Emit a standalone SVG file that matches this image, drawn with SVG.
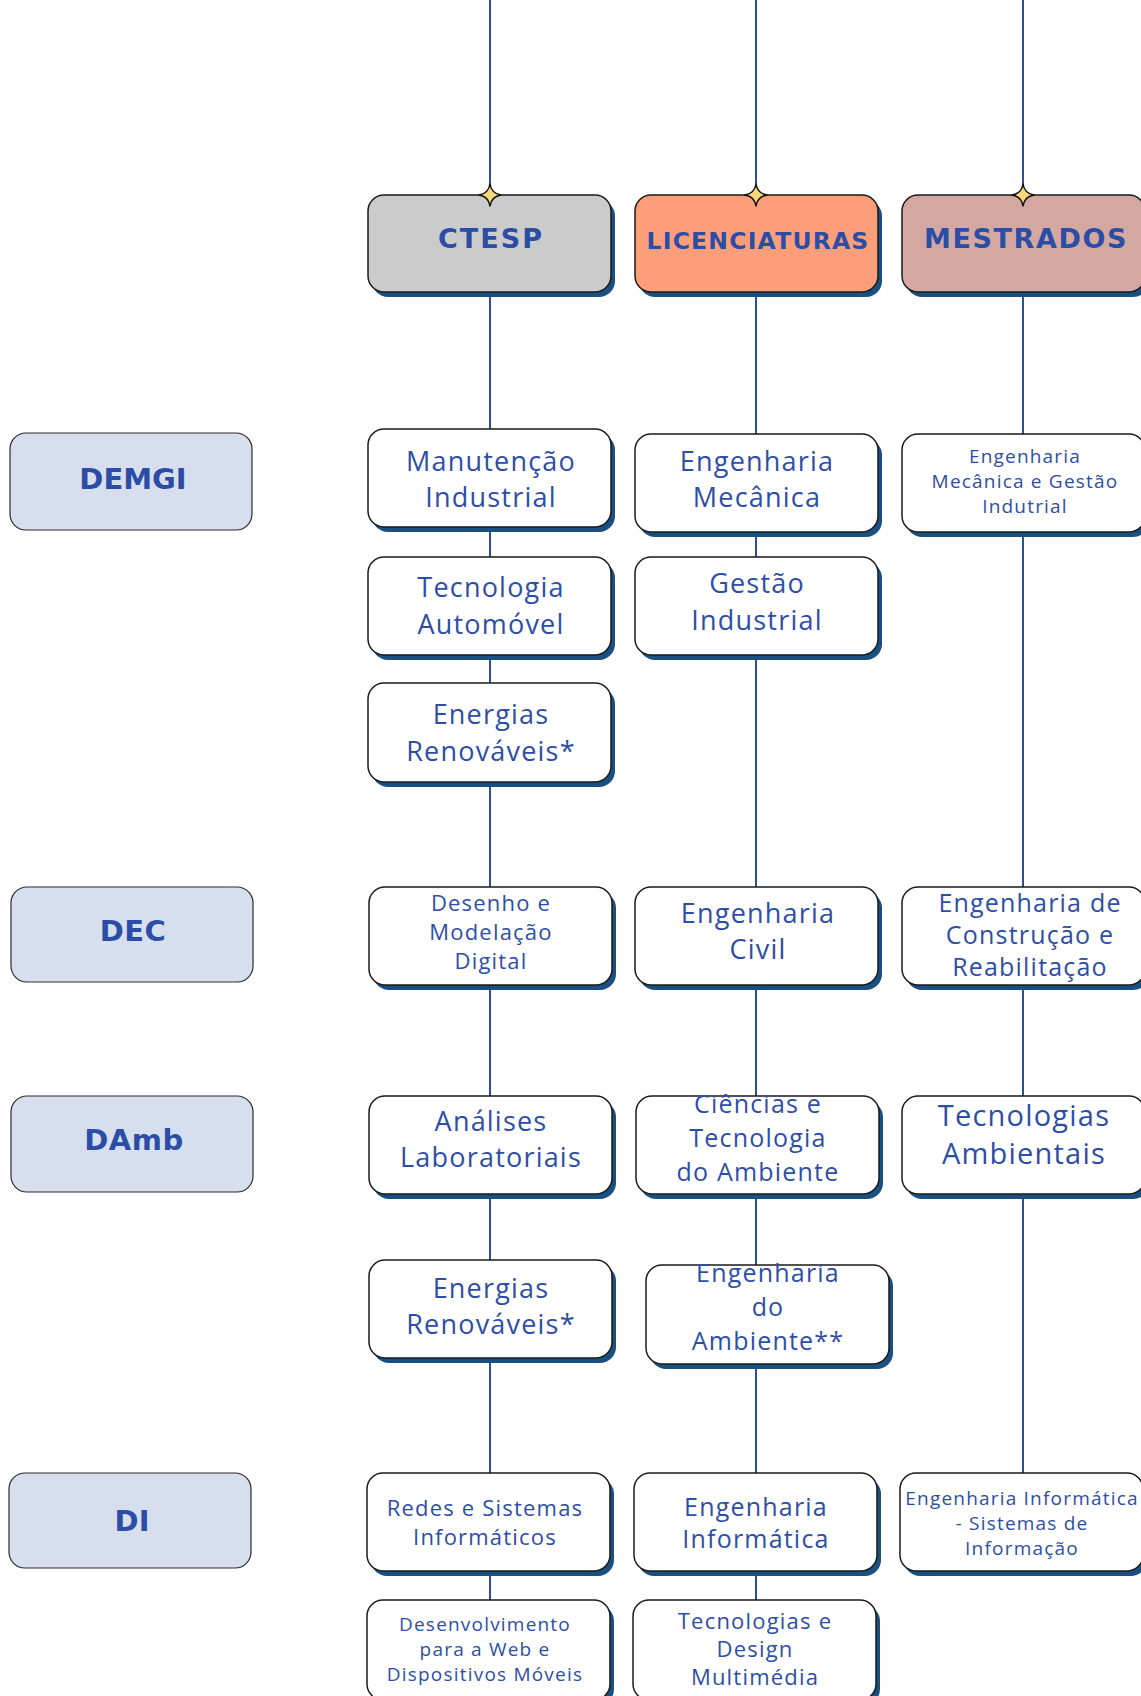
<svg xmlns="http://www.w3.org/2000/svg" width="1141" height="1696" viewBox="0 0 1141 1696">
<style>
.bg{fill:#ffffff}
.conn{stroke:#2e4ea6;stroke-width:2;fill:none}
.sh{fill:#1a4f82}
.box{fill:#ffffff;stroke:#1a1a1a;stroke-width:1.5}
.dept{fill:#d7dfef;stroke:#2a2a2a;stroke-width:1.2}
.hc{fill:#cbcbcb;stroke:#1a1a1a;stroke-width:1.5}
.hl{fill:#fd9e7a;stroke:#1a1a1a;stroke-width:1.5}
.hm{fill:#d4a8a1;stroke:#1a1a1a;stroke-width:1.5}
.star{fill:#f7d778;stroke:#111;stroke-width:1.5;stroke-linejoin:round}
.ht{font-family:"DejaVu Sans",sans-serif;font-weight:bold;fill:#2b4da6;text-anchor:middle}
.dt{font-family:"DejaVu Sans",sans-serif;font-weight:bold;font-size:29px;fill:#2b4da6;text-anchor:middle}
.t{font-family:"Open Sans",sans-serif;fill:#2e4ea6;text-anchor:middle;letter-spacing:1.2px}
</style>
<defs>
<path id="star" d="M0,-11 Q1.5,-1.5 11,0 Q1.5,1.5 0,11 Q-1.5,1.5 -11,0 Q-1.5,-1.5 0,-11 Z"/>
</defs>
<rect class="bg" x="0" y="0" width="1141" height="1696"/>
<g id="connectors">
<line class="conn" x1="490" y1="0" x2="490" y2="1600"/>
<line class="conn" x1="756" y1="0" x2="756" y2="1600"/>
<line class="conn" x1="1023" y1="0" x2="1023" y2="1473"/>
</g>
<g id="ctesp">
<rect class="sh" x="372" y="200" width="243" height="97" rx="16"/>
<rect class="hc" x="368" y="195" width="243" height="97" rx="16"/>
<text class="ht" x="491" y="248" font-size="27" letter-spacing="2">CTESP</text>
<use href="#star" class="star" x="490" y="195"/>
</g>
<g id="licenciaturas">
<rect class="sh" x="639" y="200" width="243" height="97" rx="16"/>
<rect class="hl" x="635" y="195" width="243" height="97" rx="16"/>
<text class="ht" x="758" y="249" font-size="23.5" letter-spacing="1.2">LICENCIATURAS</text>
<use href="#star" class="star" x="756" y="195"/>
</g>
<g id="mestrados">
<rect class="sh" x="906" y="200" width="243" height="97" rx="16"/>
<rect class="hm" x="902" y="195" width="243" height="97" rx="16"/>
<text class="ht" x="1026" y="248" font-size="27" letter-spacing="1.6">MESTRADOS</text>
<use href="#star" class="star" x="1023" y="195"/>
</g>
<g id="demgi">
<rect class="dept" x="10" y="433" width="242" height="97" rx="16"/>
<text class="dt" x="133" y="489">DEMGI</text>
</g>
<g id="dec">
<rect class="dept" x="11" y="887" width="242" height="95" rx="16"/>
<text class="dt" x="133" y="941" letter-spacing="0.5">DEC</text>
</g>
<g id="damb">
<rect class="dept" x="11" y="1096" width="242" height="96" rx="16"/>
<text class="dt" x="134" y="1150" letter-spacing="0.5">DAmb</text>
</g>
<g id="di">
<rect class="dept" x="9" y="1473" width="242" height="95" rx="16"/>
<text class="dt" x="132" y="1531">DI</text>
</g>
<g id="manutencao">
<rect class="sh" x="372" y="434" width="243" height="98" rx="16"/>
<rect class="box" x="368" y="429" width="243" height="98" rx="16"/>
<text class="t" font-size="27" x="491"><tspan x="491" y="471">Manutenção</tspan><tspan x="491" y="507">Industrial</tspan></text>
</g>
<g id="eng-mecanica">
<rect class="sh" x="639" y="439" width="243" height="98" rx="16"/>
<rect class="box" x="635" y="434" width="243" height="98" rx="16"/>
<text class="t" font-size="27" x="757"><tspan x="757" y="471">Engenharia</tspan><tspan x="757" y="507">Mecânica</tspan></text>
</g>
<g id="eng-mec-gestao">
<rect class="sh" x="906" y="439" width="243" height="98" rx="16"/>
<rect class="box" x="902" y="434" width="243" height="98" rx="16"/>
<text class="t" font-size="19" x="1025" letter-spacing="0.8"><tspan x="1025" y="463">Engenharia</tspan><tspan x="1025" y="488">Mecânica e Gestão</tspan><tspan x="1025" y="513">Indutrial</tspan></text>
</g>
<g id="tec-automovel">
<rect class="sh" x="372" y="562" width="243" height="98" rx="16"/>
<rect class="box" x="368" y="557" width="243" height="98" rx="16"/>
<text class="t" font-size="27" x="491"><tspan x="491" y="597">Tecnologia</tspan><tspan x="491" y="634">Automóvel</tspan></text>
</g>
<g id="gestao-industrial">
<rect class="sh" x="639" y="562" width="243" height="98" rx="16"/>
<rect class="box" x="635" y="557" width="243" height="98" rx="16"/>
<text class="t" font-size="27" x="757"><tspan x="757" y="593">Gestão</tspan><tspan x="757" y="630">Industrial</tspan></text>
</g>
<g id="energias-1">
<rect class="sh" x="372" y="688" width="243" height="99" rx="16"/>
<rect class="box" x="368" y="683" width="243" height="99" rx="16"/>
<text class="t" font-size="27" x="491"><tspan x="491" y="724">Energias</tspan><tspan x="491" y="761">Renováveis*</tspan></text>
</g>
<g id="desenho">
<rect class="sh" x="373" y="892" width="243" height="98" rx="16"/>
<rect class="box" x="369" y="887" width="243" height="98" rx="16"/>
<text class="t" font-size="22" x="491"><tspan x="491" y="911">Desenho e</tspan><tspan x="491" y="940">Modelação</tspan><tspan x="491" y="969">Digital</tspan></text>
</g>
<g id="eng-civil">
<rect class="sh" x="639" y="892" width="243" height="98" rx="16"/>
<rect class="box" x="635" y="887" width="243" height="98" rx="16"/>
<text class="t" font-size="27" x="758"><tspan x="758" y="923">Engenharia</tspan><tspan x="758" y="959">Civil</tspan></text>
</g>
<g id="eng-construcao">
<rect class="sh" x="906" y="892" width="243" height="98" rx="16"/>
<rect class="box" x="902" y="887" width="243" height="98" rx="16"/>
<text class="t" font-size="25" x="1030"><tspan x="1030" y="912">Engenharia de</tspan><tspan x="1030" y="944">Construção e</tspan><tspan x="1030" y="976">Reabilitação</tspan></text>
</g>
<g id="analises">
<rect class="sh" x="373" y="1101" width="243" height="98" rx="16"/>
<rect class="box" x="369" y="1096" width="243" height="98" rx="16"/>
<text class="t" font-size="27" x="491"><tspan x="491" y="1131">Análises</tspan><tspan x="491" y="1167">Laboratoriais</tspan></text>
</g>
<g id="ciencias-ambiente">
<rect class="sh" x="640" y="1101" width="243" height="98" rx="16"/>
<rect class="box" x="636" y="1096" width="243" height="98" rx="16"/>
<text class="t" font-size="25" x="758" letter-spacing="2.2"><tspan x="758" y="1113">Ciências e</tspan><tspan x="758" y="1147">Tecnologia</tspan><tspan x="758" y="1181">do Ambiente</tspan></text>
</g>
<g id="tec-ambientais">
<rect class="sh" x="906" y="1101" width="243" height="98" rx="16"/>
<rect class="box" x="902" y="1096" width="243" height="98" rx="16"/>
<text class="t" font-size="29" x="1024" letter-spacing="1.5"><tspan x="1024" y="1126">Tecnologias</tspan><tspan x="1024" y="1164">Ambientais</tspan></text>
</g>
<g id="energias-2">
<rect class="sh" x="373" y="1265" width="243" height="98" rx="16"/>
<rect class="box" x="369" y="1260" width="243" height="98" rx="16"/>
<text class="t" font-size="27" x="491"><tspan x="491" y="1298">Energias</tspan><tspan x="491" y="1334">Renováveis*</tspan></text>
</g>
<g id="eng-ambiente">
<rect class="sh" x="650" y="1270" width="243" height="99" rx="16"/>
<rect class="box" x="646" y="1265" width="243" height="99" rx="16"/>
<text class="t" font-size="25" x="768" letter-spacing="2"><tspan x="768" y="1282">Engenharia</tspan><tspan x="768" y="1316">do</tspan><tspan x="768" y="1350">Ambiente**</tspan></text>
</g>
<g id="redes">
<rect class="sh" x="371" y="1478" width="243" height="98" rx="16"/>
<rect class="box" x="367" y="1473" width="243" height="98" rx="16"/>
<text class="t" font-size="22" x="485"><tspan x="485" y="1516">Redes e Sistemas</tspan><tspan x="485" y="1545">Informáticos</tspan></text>
</g>
<g id="eng-informatica">
<rect class="sh" x="638" y="1478" width="243" height="98" rx="16"/>
<rect class="box" x="634" y="1473" width="243" height="98" rx="16"/>
<text class="t" font-size="25" x="756"><tspan x="756" y="1516">Engenharia</tspan><tspan x="756" y="1548">Informática</tspan></text>
</g>
<g id="eng-inf-si">
<rect class="sh" x="904" y="1478" width="243" height="98" rx="16"/>
<rect class="box" x="900" y="1473" width="243" height="98" rx="16"/>
<text class="t" font-size="19" x="1022" letter-spacing="0.4"><tspan x="1022" y="1505">Engenharia Informática</tspan><tspan x="1022" y="1530">- Sistemas de</tspan><tspan x="1022" y="1555">Informação</tspan></text>
</g>
<g id="desenvolvimento">
<rect class="sh" x="371" y="1605" width="243" height="100" rx="16"/>
<rect class="box" x="367" y="1600" width="243" height="100" rx="16"/>
<text class="t" font-size="19" x="485" letter-spacing="0.5"><tspan x="485" y="1631">Desenvolvimento</tspan><tspan x="485" y="1656">para a Web e</tspan><tspan x="485" y="1681">Dispositivos Móveis</tspan></text>
</g>
<g id="tec-design">
<rect class="sh" x="637" y="1605" width="243" height="100" rx="16"/>
<rect class="box" x="633" y="1600" width="243" height="100" rx="16"/>
<text class="t" font-size="22" x="755"><tspan x="755" y="1629">Tecnologias e</tspan><tspan x="755" y="1657">Design</tspan><tspan x="755" y="1685">Multimédia</tspan></text>
</g>
</svg>
